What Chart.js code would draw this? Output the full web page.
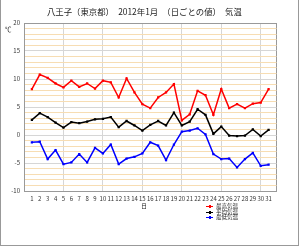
<!DOCTYPE html>
<html lang="ja">
<head>
<meta charset="UTF-8">
<script src="https://cdn.jsdelivr.net/npm/chart.js"></script>
<title>八王子 気温</title>
<style>
  body { margin: 0; background: #fff; font-family: "Noto Sans CJK JP", sans-serif; }
  #wrap { position: relative; width: 300px; height: 247px; overflow: hidden; }
  #frame { position: absolute; left: 0; top: 0; width: 297px; height: 245px;
           border-left: 1px solid #999; border-right: 1px solid #999; border-bottom: 1px solid #999; }
  .lbl { position: absolute; color: #222; white-space: nowrap; }
  #legend { position: absolute; left: 206px; top: 204px; font-size: 5.5px; line-height: 5.5px; color: #222; }
  #legend div { display: flex; align-items: center; height: 5.5px; }
  #legend span.mk { display: inline-block; width: 7px; height: 1px; margin-right: 3px; position: relative; }
  #legend span.mk::after { content: ""; position: absolute; left: 2.5px; top: -1px; width: 2px; height: 3px; background: inherit; }
</style>
</head>
<body>
<div id="wrap">
  <canvas id="c" width="300" height="247"></canvas>
  <div id="frame"></div>
  <div class="lbl" style="left:47px; top:5px; font-size:8.4px;">八王子（東京都）　2012年1月　（日ごとの値）　気温</div>
  <div class="lbl" style="left:5px; top:24px; font-size:6.5px;">℃</div>
  <div class="lbl" style="left:141px; top:201px; font-size:6px;">日</div>
  <div id="legend"></div>
</div>
<script>
  const days = [1,2,3,4,5,6,7,8,9,10,11,12,13,14,15,16,17,18,19,20,21,22,23,24,25,26,27,28,29,30,31]
  const maxTemp = [8.2,10.8,10.2,9.2,8.5,9.7,8.6,9.2,8.3,9.7,9.4,6.7,10.1,7.6,5.5,4.8,6.7,7.6,9.1,2.6,3.7,7.9,7.1,3.6,8.2,4.8,5.5,4.8,5.6,5.8,8.2]
  const avgTemp = [2.7,3.9,3.2,2.2,1.3,2.3,2.1,2.4,2.8,2.9,3.2,1.4,2.5,1.7,0.8,1.8,2.5,1.7,4.0,1.7,2.4,4.6,3.6,0.2,1.5,-0.1,-0.2,-0.1,1.0,-0.2,0.9]
  const minTemp = [-1.3,-1.2,-4.3,-2.7,-5.2,-4.9,-3.4,-4.9,-2.3,-3.3,-1.7,-5.2,-4.2,-3.9,-3.3,-1.3,-1.9,-4.5,-1.7,0.6,0.8,1.2,0.1,-3.4,-4.3,-4.2,-5.8,-4.3,-3.2,-5.5,-5.3]
  const seriesNames = ['最高気温', '平均気温', '最低気温']
  const seriesColors = ['#ff0000', '#000000', '#0000ff']

  const toXY = arr => arr.map((v, i) => ({ x: days[i], y: v }))

  const datasets = [maxTemp, avgTemp, minTemp].map((arr, i) => ({
    label: seriesNames[i],
    data: toXY(arr),
    borderColor: seriesColors[i],
    backgroundColor: seriesColors[i],
    borderWidth: 1.5,
    pointStyle: 'rect',
    pointRadius: 1.6,
    pointBorderWidth: 0,
    tension: 0
  }))

  new Chart(document.getElementById('c'), {
    type: 'line',
    data: { datasets },
    options: {
      responsive: false,
      animation: false,
      layout: { padding: { left: 0, top: 23, right: 23.5, bottom: 0 } },
      plugins: { legend: { display: false }, tooltip: { enabled: false } },
      scales: {
        x: {
          type: 'linear', min: 0, max: 32,
          afterFit: s => { s.height = 56 },
          border: { color: '#999' },
          grid: {
            drawTicks: false,
            color: c => {
              const v = c.tick.value
              if (v === 0 || v === 32) return '#999'
              return v % 5 === 0 ? '#d6d6d6' : 'rgba(0,0,0,0)'
            }
          },
          ticks: {
            stepSize: 1, autoSkip: false, maxRotation: 0, padding: 4,
            color: '#333', font: { size: 6, family: 'Noto Sans CJK JP' },
            callback: v => (v >= 1 && v <= 31) ? v : ''
          }
        },
        y: {
          min: -10, max: 20,
          afterFit: s => { s.width = 24 },
          border: { color: '#999' },
          grid: {
            drawTicks: false,
            color: c => {
              const v = c.tick.value
              if (v === 20 || v === -10) return '#999'
              return v % 5 === 0 ? '#d6d6d6' : '#f7ddb3'
            }
          },
          ticks: {
            stepSize: 1, autoSkip: false, padding: 4,
            color: '#333', font: { size: 6, family: 'Noto Sans CJK JP' },
            callback: v => v % 5 === 0 ? v : ''
          }
        }
      }
    }
  })

  const legend = document.getElementById('legend')
  seriesNames.forEach((name, i) => {
    const row = document.createElement('div')
    row.innerHTML = '<span class="mk" style="background:' + seriesColors[i] + '"></span>' + name
    legend.appendChild(row)
  })
</script>
</body>
</html>
